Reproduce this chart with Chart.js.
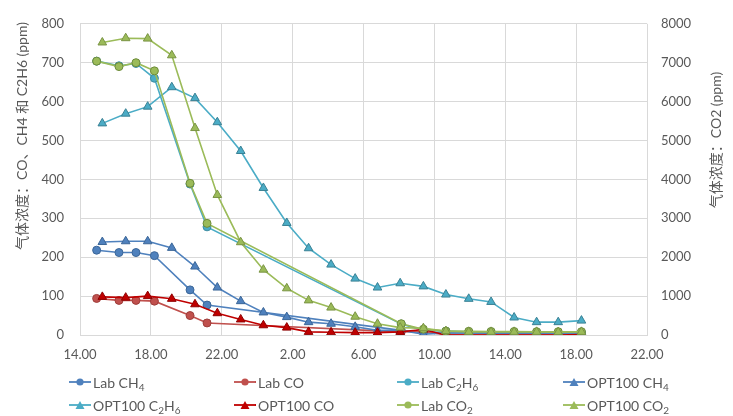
<!DOCTYPE html>
<html>
<head>
<meta charset="utf-8">
<script src="https://cdn.jsdelivr.net/npm/chart.js@4.4.1/dist/chart.umd.min.js"></script>
<style>
  body{margin:0;background:#fff}
  #wrap{position:relative;width:733px;height:416px}
  #legend{position:absolute;left:0;top:0;width:733px;height:416px;pointer-events:none;
    font:14px Lato,'Noto Sans CJK SC',sans-serif;color:#595959}
  .lg{position:absolute;display:flex;align-items:center;white-space:nowrap;height:20px;transform:translateY(-50%)}
  .lg svg{margin-right:2px}
  .lg sub{font-size:10px;vertical-align:-3px;line-height:0}
</style>
</head>
<body>
<div id="wrap">
  <canvas id="gasChart" width="733" height="416"></canvas>
  <div id="legend"></div>
</div>
<script>
/* horas contadas a partir do meio-dia do 1º dia (26 = 2.00 do dia seguinte) */
const labTime = [14.94, 16.2, 17.16, 18.2, 20.21, 21.17, 32.13, 33.38, 34.65, 35.94, 37.2, 38.5, 39.77, 40.99, 42.3];
const optTime = [15.26, 16.58, 17.82, 19.18, 20.49, 21.75, 23.07, 24.35, 25.67, 26.9, 28.17,
                 29.53, 30.79, 32.07, 33.38, 34.65, 35.94, 37.2, 38.5, 39.77, 40.99, 42.3];

const labCH4  = [218, 212, 212, 204, 116, 77, 12, 6, 5, 5, 4, 4, 4, 4, 5];
const labCO   = [94, 89, 89, 87, 50, 31, 8, 10, 0, 0, 0, 0, 0, 0, 0];
const labC2H6 = [704, 692, 698, 660, 388, 278, 28, 12, 10, 8, 8, 7, 7, 6, 6];
const labCO2  = [7040, 6900, 7000, 6790, 3900, 2870, 290, 150, 100, 95, 90, 90, 85, 85, 85];

const optCH4  = [239, 241, 241, 224, 176, 122, 87, 58, 46, 33, 29, 21, 12, 12, 2, 5, 5, 5, 5, 5, 5, 6];
const optC2H6 = [544, 569, 587, 637, 609, 547, 473, 378, 288, 223, 181, 145, 122, 133, 125, 104, 93, 85, 45, 33, 33, 37];
const optCO   = [98, 96, 100, 93, 79, 56, 40, 25, 19, 8, 7, 6, 6, 8, 14, 0, 0, 0, 0, 0, 0, 1];
const optCO2  = [7520, 7630, 7620, 7190, 5320, 3600, 2385, 1680, 1200, 890, 705, 470, 290, 190, 175, 100, 80, 80, 80, 80, 75, 80];

const xTicks = [14, 18, 22, 26, 30, 34, 38, 42, 46];
const leftTitle  = '气体浓度：CO、CH4 和 C2H6 (ppm)';
const rightTitle = '气体浓度：CO2 (ppm)';

const FONT = "Lato, 'Noto Sans CJK SC', sans-serif";
const INK = '#595959';

const pts = (xs, ys) => ys.map((y, i) => ({ x: xs[i], y }));

function series(label, xs, ys, color, edge, shape, axis){
  const tri = shape === 'triangle';
  return { label, data: pts(xs, ys), yAxisID: axis || 'y',
    borderColor: color, backgroundColor: color, borderWidth: 1.6,
    pointStyle: shape, pointRadius: tri ? 5 : 4, pointBorderColor: edge,
    pointBackgroundColor: color, pointBorderWidth: 1, showLine: true, tension: 0 };
}

const datasets = [
  series('Lab CH₄',      labTime, labCH4,  '#4F81BD', '#3B6698', 'circle'),
  series('Lab CO',       labTime, labCO,   '#C0504D', '#9E3D3A', 'circle'),
  series('Lab C₂H₆',     labTime, labC2H6, '#4BACC6', '#3A8BA1', 'circle'),
  series('OPT100 CH₄',   optTime, optCH4,  '#4F81BD', '#3B6698', 'triangle'),
  series('OPT100 C₂H₆',  optTime, optC2H6, '#4BACC6', '#3A8194', 'triangle'),
  series('OPT100 CO',    optTime, optCO,   '#C00000', '#8E0000', 'triangle'),
  series('Lab CO₂',      labTime, labCO2,  '#9BBB59', '#6E8C3A', 'circle', 'y2'),
  series('OPT100 CO₂',   optTime, optCO2,  '#9BBB59', '#7A9444', 'triangle', 'y2'),
];
datasets.forEach((d, i) => { d.order = datasets.length - i; });

/* títulos dos eixos desenhados à mão (os dois lidos de baixo para cima) */
const axisTitles = {
  id: 'axisTitles',
  afterDraw(chart){
    const c = chart.ctx;
    c.save();
    c.fillStyle = INK;
    c.font = '14px ' + FONT;
    c.textAlign = 'center'; c.textBaseline = 'middle';
    [[22, 136, leftTitle], [716, 140, rightTitle]].forEach(([x, y, t]) => {
      c.save(); c.translate(x, y); c.rotate(-Math.PI / 2); c.fillText(t, 0, 0); c.restore();
    });
    c.restore();
  }
};

/* legenda em grade 4x2, como no original */
const gridLegend = {
  id: 'gridLegend',
  afterRender(chart){
    const box = document.getElementById('legend');
    if (box.dataset.done) return;
    box.dataset.done = '1';
    const cols = [69, 234, 397, 563], rows = [382, 405];
    box.innerHTML = chart.data.datasets.map((d, i) => {
      const col = cols[i % 4], row = rows[Math.floor(i / 4)];
      const mark = d.pointStyle === 'triangle'
        ? `<polygon points="11,5 15.5,13 6.5,13" fill="${d.backgroundColor}"/>`
        : `<circle cx="11" cy="9" r="3.6" fill="${d.backgroundColor}"/>`;
      const svg = `<svg width="22" height="18"><line x1="0" y1="9" x2="22" y2="9" stroke="${d.borderColor}" stroke-width="1.8"/>${mark}</svg>`;
      const txt = d.label.replace(/[₂₄₆]/g, ch => '<sub>' + ({'₂':'2','₄':'4','₆':'6'})[ch] + '</sub>');
      return `<div class="lg" style="left:${col}px;top:${row}px">${svg}<span>${txt}</span></div>`;
    }).join('');
  }
};

new Chart(document.getElementById('gasChart'), {
  type: 'scatter',
  data: { datasets },
  plugins: [axisTitles, gridLegend],
  options: {
    responsive: false, animation: false,
    layout: { padding: { top: 14, left: 0, right: 0, bottom: 0 } },
    plugins: { legend: { display: false }, tooltip: { enabled: false } },
    scales: {
      x: {
        type: 'linear', min: 14, max: 46,
        afterBuildTicks: s => { s.ticks = xTicks.map(v => ({ value: v })); },
        afterFit: s => { s.height = 81; },
        grid: { color: '#D9D9D9', lineWidth: 1, drawTicks: false },
        border: { color: '#D9D9D9' },
        ticks: { color: INK, font: { family: FONT, size: 13 }, padding: 12, maxRotation: 0,
          callback: v => (v % 24) + '.00' }
      },
      y: {
        position: 'left', min: 0, max: 800,
        afterFit: s => { s.width = 80; },
        grid: { color: '#D9D9D9', lineWidth: 1, drawTicks: false },
        border: { color: '#D9D9D9' },
        ticks: { stepSize: 100, color: INK, font: { family: FONT, size: 13 }, padding: 16,
          callback: v => String(v) }
      },
      y2: {
        position: 'right', min: 0, max: 8000,
        afterFit: s => { s.width = 86; },
        grid: { display: false, drawTicks: false },
        border: { display: false },
        ticks: { stepSize: 1000, color: INK, font: { family: FONT, size: 13 }, padding: 14,
          callback: v => String(v) }
      }
    }
  }
});
</script>
</body>
</html>
